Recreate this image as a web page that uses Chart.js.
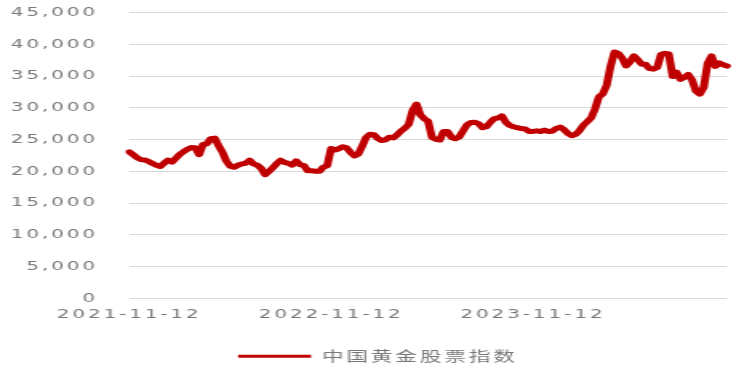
<!DOCTYPE html>
<html>
<head>
<meta charset="utf-8">
<script src="https://cdn.jsdelivr.net/npm/chart.js@4/dist/chart.umd.min.js"></script>
<style>
    html, body { margin: 0; padding: 0; background: #fff; overflow: hidden; }
    /* o gráfico original está esticado na horizontal */
    #wrap {
        position: absolute; left: 0; top: 0;
        width: 461.25px; height: 374px;
        transform: scaleX(1.6); transform-origin: 0 0;
    }
</style>
</head>
<body>
<div id="wrap"><canvas id="chart"></canvas></div>
<script>
/* Dados */
const seriesName = '中国黄金股票指数';
const tickLabels = ['2021-11-12', '2022-11-12', '2023-11-12'];
const weeksPerLabel = 52;
const goldIndex = [
    23100, 22650, 22190, 21870, 21810, 21570, 21270, 20990, 20790, 21320,
    21800, 21460, 22090, 22700, 23130, 23500, 23790, 23730, 22650, 24270,
    24360, 25170, 25250, 24080, 23040, 21650, 20840, 20670, 20980, 21200,
    21280, 21780, 21200, 20990, 20490, 19500, 20020, 20590, 21250, 21770,
    21420, 21280, 21000, 21670, 21090, 20940, 20100, 20100, 20040, 20020,
    20690, 20900, 23630, 23370, 23580, 23890, 23720, 23020, 22440, 22750,
    23960, 25360, 25850, 25790, 25200, 24880, 24990, 25400, 25290, 25760,
    26370, 26810, 27430, 29600, 30600, 28900, 28310, 27900, 25350, 25060,
    24950, 26310, 26310, 25380, 25150, 25430, 26390, 27340, 27720, 27740,
    27540, 26890, 27050, 27730, 28320, 28420, 28760, 27760, 27260, 27050,
    26890, 26760, 26680, 26310, 26310, 26400, 26300, 26520, 26300, 26350,
    26780, 26980, 26600, 25990, 25630, 25850, 26440, 27290, 27840, 28440,
    29870, 31750, 32220, 33580, 36570, 38800, 38600, 37850, 36620, 37250,
    38210, 37620, 36890, 36890, 36200, 36110, 36380, 38410, 38610, 38500,
    34940, 35630, 34500, 34810, 35270, 34400, 32650, 32180, 33230, 37000,
    38200, 36540, 37100, 36800, 36600
];
const weeks = goldIndex.map((_, i) => i);

const textColor = '#787878';
const spacing = '1.8px';

/* espaçamento entre letras (o contexto perde o estado a cada resize) */
const letterSpacingPlugin = {
    id: 'letterSpacing',
    beforeLayout(chart) { chart.ctx.letterSpacing = spacing; },
    beforeDraw(chart) { chart.ctx.letterSpacing = spacing; },
    afterLayout(chart) {
        // legenda um pouco à direita, como no original
        chart.legend.left += 9;
        chart.legend.right += 9;
    }
};

new Chart(document.getElementById('chart'), {
    type: 'line',
    data: {
        labels: weeks,
        datasets: [{
            label: seriesName,
            data: goldIndex,
            borderColor: '#c00000',
            backgroundColor: '#c00000',
            borderWidth: 5,
            pointRadius: 0,
            tension: 0,
            borderJoinStyle: 'round',
            borderCapStyle: 'round'
        }]
    },
    options: {
        responsive: true,
        maintainAspectRatio: false,
        animation: false,
        layout: { padding: { left: 0, right: 6.9, top: 12.7, bottom: 1 } },
        plugins: {
            legend: {
                position: 'bottom',
                labels: {
                    boxWidth: 45.6,
                    boxHeight: 3,
                    color: textColor,
                    font: { family: '"Noto Sans CJK SC", sans-serif', size: 13.5 },
                    generateLabels: (chart) => Chart.defaults.plugins.legend.labels
                        .generateLabels(chart).map(l => ({ ...l, lineWidth: 0 }))
                }
            },
            tooltip: { enabled: false }
        },
        scales: {
            x: {
                grid: { display: false },
                border: { display: false },
                ticks: {
                    autoSkip: false,
                    maxRotation: 0,
                    padding: 1,
                    color: textColor,
                    font: { family: '"DejaVu Sans"', size: 12.5 },
                    callback: (v, idx) => idx % weeksPerLabel === 0 ? tickLabels[idx / weeksPerLabel] : null
                },
                afterFit: (s) => { s.height = 41; s.paddingLeft = 0; s.paddingRight = 0; }
            },
            y: {
                min: 0,
                max: 45000,
                grid: { color: '#d9d9d9', drawTicks: false },
                border: { display: false },
                ticks: {
                    stepSize: 5000,
                    padding: 19.6,
                    color: textColor,
                    font: { family: '"DejaVu Sans"', size: 12.5 },
                    callback: (v) => v.toLocaleString('en-US')
                },
                afterFit: (s) => { s.width = 80.8; s.paddingTop = 0; s.paddingBottom = 0; }
            }
        }
    },
    plugins: [letterSpacingPlugin]
});
</script>
</body>
</html>
